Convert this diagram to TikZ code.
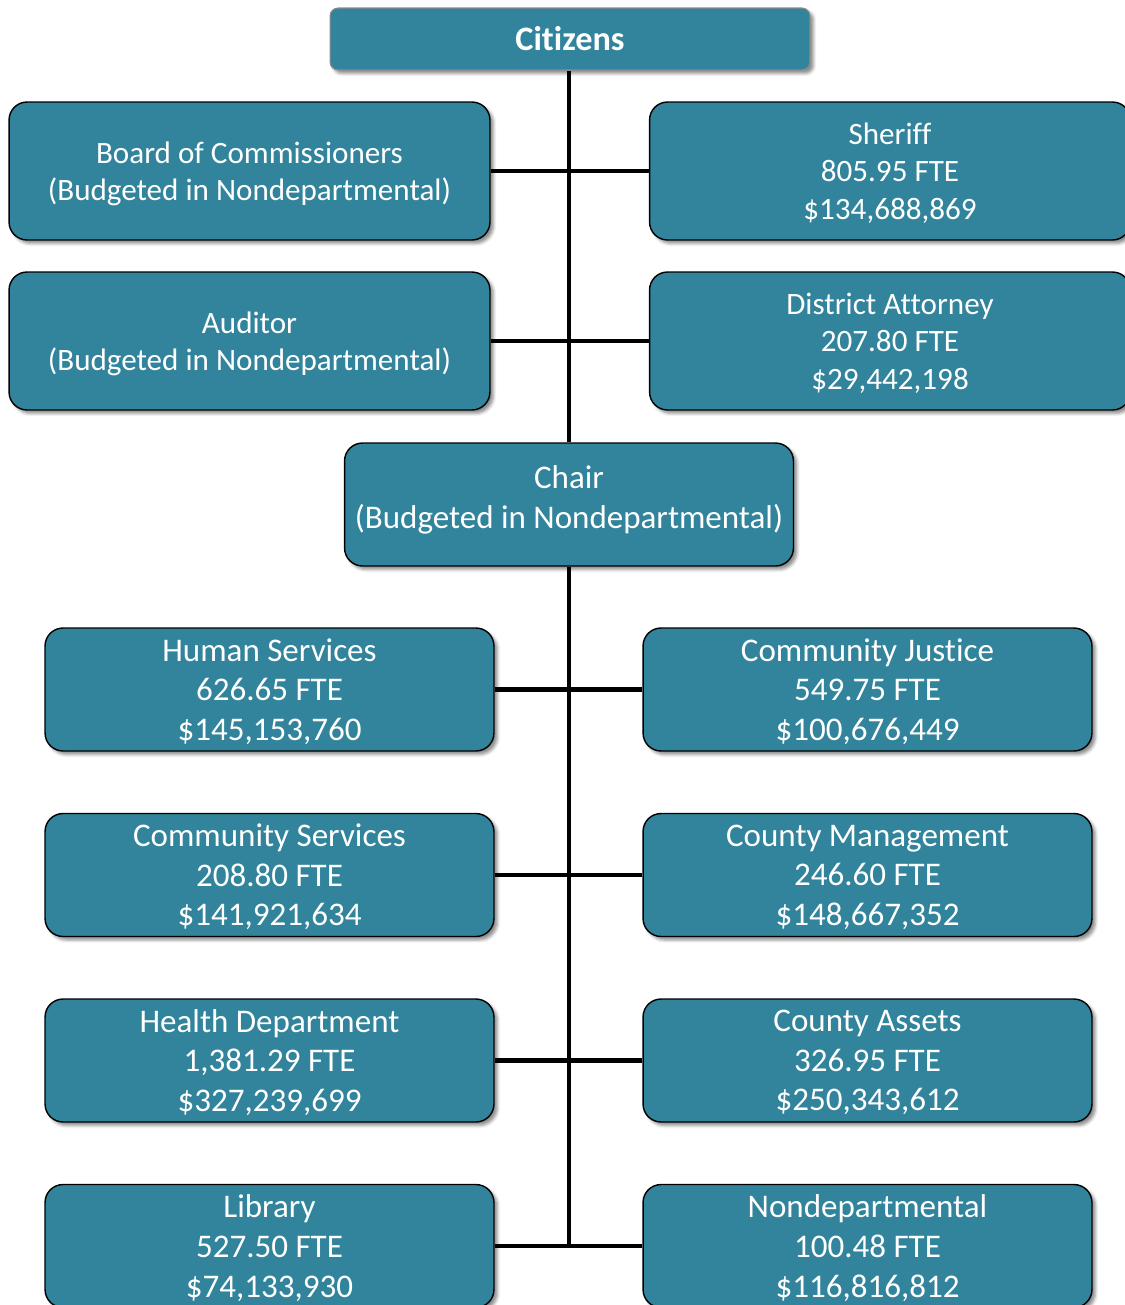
\documentclass[tikz,border=0pt]{standalone}
\usepackage{fontspec}
\setmainfont{Carlito}[Ligatures=NoCommon]
\usetikzlibrary{shadows.blur}
\definecolor{CountyTeal}{HTML}{31849B}
\definecolor{EdgeGray}{HTML}{8C8C8C}

\begin{document}
\begin{tikzpicture}[x=0.02cm, y=-0.02cm,
  unit/.style={draw=black, line width=0.8pt, rounded corners=0.36cm, fill=CountyTeal, text=white, align=center, inner sep=0pt,
    blur shadow={shadow xshift=0.07cm, shadow yshift=-0.07cm, shadow blur radius=0.06cm, shadow opacity=45}},
  elected/.style={unit, minimum width=9.62cm, minimum height=2.76cm, text depth=0pt, font=\fontsize{17.7}{21.3}\selectfont},
  dept/.style={unit, minimum width=8.98cm, minimum height=2.46cm, text depth=0pt, font=\fontsize{18.8}{22.5}\selectfont},
  link/.style={line width=2.3pt}
]
\useasboundingbox (0,0) rectangle (1125,1305);
\node[unit, draw=EdgeGray, line width=0.6pt, rounded corners=0.16cm, minimum width=9.6cm, minimum height=1.24cm,
  font=\bfseries\fontsize{19.5}{23}\selectfont] (citizens) at (570,39) {Citizens};
\node[elected] (board) at (249.5,171) {Board of Commissioners\\(Budgeted in Nondepartmental)};
\node[elected] (sheriff) at (890,171) {Sheriff\\805.95 FTE\\\$134,688,869};
\node[elected] (auditor) at (249.5,341) {Auditor\\(Budgeted in Nondepartmental)};
\node[elected] (da) at (890,341) {District Attorney\\207.80 FTE\\\$29,442,198};
\node[dept, text depth=0.3cm] (chair) at (569,504.5) {Chair\\(Budgeted in Nondepartmental)};

\node[dept] (hs) at (269.5,689.5) {Human Services\\626.65 FTE\\\$145,153,760};
\node[dept] (cj) at (867.5,689.5) {Community Justice\\549.75 FTE\\\$100,676,449};
\node[dept] (cs) at (269.5,875) {Community Services\\208.80 FTE\\\$141,921,634};
\node[dept] (cm) at (867.5,875) {County Management\\246.60 FTE\\\$148,667,352};
\node[dept] (hd) at (269.5,1060.5) {Health Department\\1,381.29 FTE\\\$327,239,699};
\node[dept] (ca) at (867.5,1060.5) {County Assets\\326.95 FTE\\\$250,343,612};
\node[dept] (lib) at (269.5,1246) {Library\\527.50 FTE\\\$74,133,930};
\node[dept] (nd) at (867.5,1246) {Nondepartmental\\100.48 FTE\\\$116,816,812};

\coordinate (trunkend) at (chair.south |- lib.east);
\draw[link] (citizens.south -| chair.north) -- (chair.north);
\draw[link] (board) -- (sheriff);
\draw[link] (auditor) -- (da);
\draw[link] (chair.south) -- ([yshift=-1.15pt]trunkend);
\foreach \l/\r in {hs/cj, cs/cm, hd/ca, lib/nd}
  \draw[link] (\l) -- (\r);
\end{tikzpicture}
\end{document}
